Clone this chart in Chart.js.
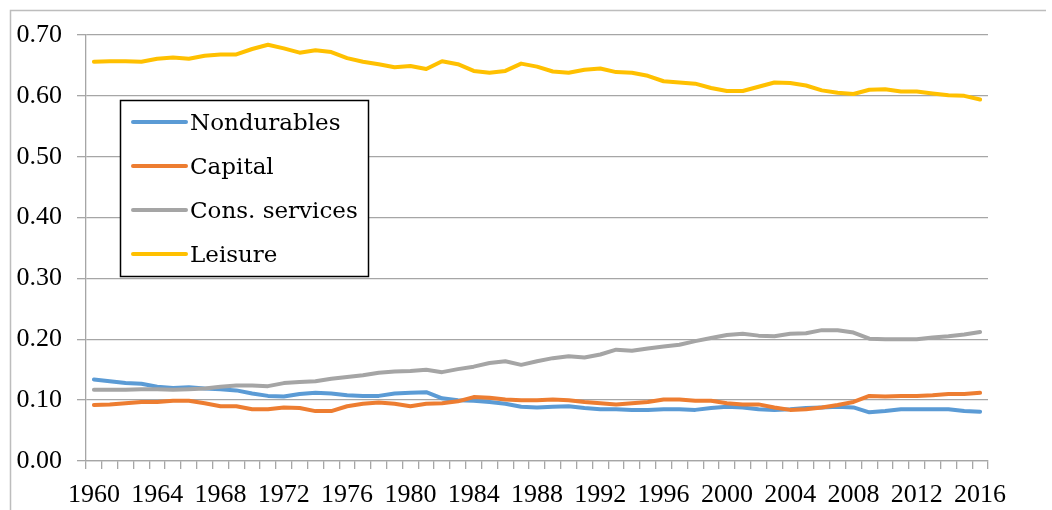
<!DOCTYPE html>
<html><head><meta charset="utf-8">
<style>html,body{margin:0;padding:0;background:#fff;overflow:hidden}#wrap{position:relative;width:1052px;height:510px}</style>
<script src="https://cdn.jsdelivr.net/npm/chart.js@4.4.0/dist/chart.umd.min.js"></script>
</head><body><div id="wrap"><canvas id="c" width="1052" height="510"></canvas></div>
<script>
const years = ['1960','1961','1962','1963','1964','1965','1966','1967','1968','1969',
  '1970','1971','1972','1973','1974','1975','1976','1977','1978','1979',
  '1980','1981','1982','1983','1984','1985','1986','1987','1988','1989',
  '1990','1991','1992','1993','1994','1995','1996','1997','1998','1999',
  '2000','2001','2002','2003','2004','2005','2006','2007','2008','2009',
  '2010','2011','2012','2013','2014','2015','2016'];
const xTickLabels = ['1960','1964','1968','1972','1976','1980','1984','1988','1992','1996','2000','2004','2008','2012','2016'];
const seriesNames = ['Nondurables','Capital','Cons. services','Leisure'];
const nondurables = [0.134,0.131,0.128,0.127,0.122,0.120,0.121,0.119,0.118,0.116,
  0.111,0.107,0.106,0.110,0.112,0.111,0.108,0.107,0.107,0.111,
  0.112,0.113,0.103,0.100,0.099,0.097,0.094,0.089,0.088,0.089,
  0.090,0.087,0.085,0.085,0.084,0.084,0.085,0.085,0.084,0.087,
  0.089,0.088,0.085,0.084,0.085,0.087,0.088,0.089,0.088,0.080,
  0.082,0.085,0.085,0.085,0.085,0.082,0.081];
const capital = [0.092,0.093,0.095,0.097,0.097,0.099,0.099,0.095,0.090,0.090,
  0.085,0.085,0.088,0.087,0.082,0.082,0.090,0.094,0.096,0.094,
  0.090,0.094,0.095,0.098,0.105,0.104,0.101,0.100,0.100,0.101,
  0.100,0.097,0.095,0.093,0.095,0.097,0.101,0.101,0.099,0.099,
  0.095,0.093,0.093,0.088,0.084,0.085,0.088,0.092,0.097,0.107,
  0.106,0.107,0.107,0.108,0.110,0.110,0.112];
const consServices = [0.117,0.117,0.117,0.118,0.118,0.117,0.118,0.119,0.122,0.124,
  0.124,0.123,0.128,0.130,0.131,0.135,0.138,0.141,0.145,0.147,
  0.148,0.150,0.146,0.151,0.155,0.161,0.164,0.158,0.164,0.169,
  0.172,0.170,0.175,0.183,0.181,0.185,0.188,0.191,0.197,0.202,
  0.207,0.209,0.206,0.205,0.209,0.210,0.215,0.215,0.211,0.201,
  0.200,0.200,0.200,0.203,0.205,0.208,0.212];
const leisure = [0.656,0.657,0.657,0.656,0.661,0.663,0.661,0.666,0.668,0.668,
  0.677,0.684,0.678,0.671,0.675,0.672,0.662,0.656,0.652,0.647,
  0.649,0.644,0.657,0.652,0.641,0.638,0.641,0.653,0.648,0.640,
  0.638,0.643,0.645,0.639,0.638,0.633,0.624,0.622,0.620,0.613,
  0.608,0.608,0.615,0.622,0.621,0.617,0.609,0.605,0.603,0.610,
  0.611,0.607,0.607,0.604,0.601,0.600,0.594];
const colors = ['#5B9BD5','#ED7D31','#A5A5A5','#FFC000'];
const yTicks = [0,0.1,0.2,0.3,0.4,0.5,0.6,0.7];

const seriesData = [nondurables, capital, consServices, leisure];
const AXIS_FONT = {family:'"Liberation Serif", serif', size:26};
const GRID = '#a6a6a6';

const frame = {
  id:'frame',
  beforeDraw(chart){
    const ctx = chart.ctx;
    ctx.save();
    ctx.fillStyle = '#fff';
    ctx.fillRect(0,0,chart.width,chart.height);
    ctx.strokeStyle = '#bdbdbd';
    ctx.lineWidth = 1.5;
    ctx.beginPath();
    ctx.moveTo(10.5, chart.height); ctx.lineTo(10.5, 10.5); ctx.lineTo(chart.width - 6, 10.5);
    ctx.stroke();
    ctx.restore();
  }
};

const boxLegend = {
  id:'boxLegend',
  afterDraw(chart){
    const ctx = chart.ctx;
    ctx.save();
    const bx = 120.5, by = 100.5, bw = 248, bh = 176;
    ctx.fillStyle = '#fff';
    ctx.fillRect(bx, by, bw, bh);
    ctx.strokeStyle = '#000';
    ctx.lineWidth = 1.5;
    ctx.strokeRect(bx, by, bw, bh);
    ctx.font = '23px "DejaVu Serif", serif';
    ctx.textBaseline = 'alphabetic';
    ctx.textAlign = 'left';
    seriesNames.forEach((name, i) => {
      const cy = 122 + i * 44;
      ctx.strokeStyle = colors[i];
      ctx.lineWidth = 4;
      ctx.lineCap = 'round';
      ctx.beginPath(); ctx.moveTo(133, cy); ctx.lineTo(186, cy); ctx.stroke();
      ctx.fillStyle = '#000';
      ctx.fillText(name, 190, cy + 8);
    });
    ctx.restore();
  }
};

new Chart(document.getElementById('c'), {
  type:'line',
  data:{
    labels: years,
    datasets: seriesData.map((d, i) => ({
      label: seriesNames[i],
      data: d,
      borderColor: colors[i],
      backgroundColor: colors[i],
      borderWidth: 4,
      pointRadius: 0,
      tension: 0,
      fill: false,
      order: 4 - i,
      borderJoinStyle: 'round',
      borderCapStyle: 'round'
    }))
  },
  options:{
    responsive:false,
    animation:false,
    devicePixelRatio:1,
    layout:{padding:{left:0, top:35, right:64, bottom:0}},
    plugins:{legend:{display:false}, tooltip:{enabled:false}},
    scales:{
      x:{
        type:'category',
        offset:true,
        afterFit(s){ s.height = 49; },
        grid:{offset:true, drawOnChartArea:false, drawTicks:true, tickLength:8, color:GRID, lineWidth:1.3},
        border:{color:GRID, width:1.3},
        ticks:{
          autoSkip:false, maxRotation:0, minRotation:0, padding:11,
          color:'#000', font:AXIS_FONT,
          callback(v, i){ const l = years[i]; return xTickLabels.includes(l) ? l : ''; }
        }
      },
      y:{
        min:0, max:0.7,
        afterFit(s){ s.width = 86; },
        afterBuildTicks(s){ s.ticks = yTicks.map(v => ({value:v})); },
        grid:{color:GRID, lineWidth:1.3, tickLength:9},
        border:{color:GRID, width:1.3},
        ticks:{padding:15, color:'#000', font:AXIS_FONT, callback:v => Number(v).toFixed(2)}
      }
    }
  },
  plugins:[frame, boxLegend]
});
</script>
</body></html>
